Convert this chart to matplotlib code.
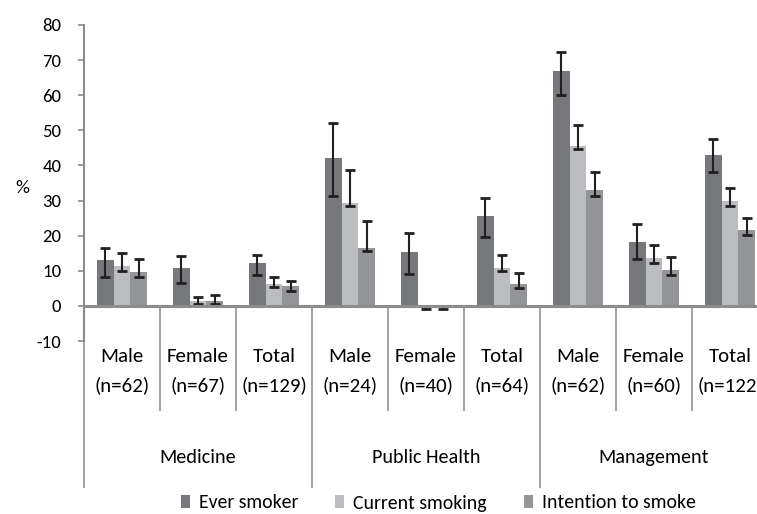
import matplotlib.pyplot as plt
import numpy as np

plt.rcParams['font.family'] = ['Carlito', 'Lato', 'DejaVu Sans']

# ---------- DATA ----------
groups = ["Medicine", "Public Health", "Management"]
subgroups = ["Male\n(n=62)", "Female\n(n=67)", "Total\n(n=129)",
             "Male\n(n=24)", "Female\n(n=40)", "Total\n(n=64)",
             "Male\n(n=62)", "Female\n(n=60)", "Total\n(n=122)"]
series = ["Ever smoker", "Current smoking", "Intention to smoke"]

ever = [13.0, 10.9, 12.1, 42.0, 15.4, 25.7, 66.9, 18.3, 43.1]
ever_lo = [4.9, 4.4, 3.3, 10.8, 6.2, 6.0, 6.7, 5.0, 4.9]
ever_hi = [3.6, 3.2, 2.5, 10.0, 5.5, 5.0, 5.4, 4.9, 4.3]

current = [11.4, 1.4, 6.3, 29.4, 0.0, 10.9, 45.4, 13.7, 30.0]
current_lo = [1.6, 1.0, 1.0, 1.0, 1.0, 1.0, 0.7, 1.5, 1.6]
current_hi = [3.7, 1.0, 2.0, 9.4, 0.0, 3.6, 6.0, 3.7, 3.7]

intention = [9.7, 1.4, 5.8, 16.6, 0.0, 6.3, 32.9, 10.3, 21.7]
intention_lo = [1.6, 1.0, 1.7, 1.0, 1.0, 1.1, 1.7, 1.6, 1.4]
intention_hi = [3.6, 1.7, 1.3, 7.7, 0.0, 3.0, 5.3, 3.7, 3.2]

yticks = list(range(-10, 81, 10))

# ---------- FIGURE ----------
fig = plt.figure(figsize=(7.57, 5.14), dpi=100)
ax = fig.add_axes([84 / 757, 173 / 514, 684 / 757, 316 / 514])

colors = ["#77787b", "#bcbdc0", "#939598"]
x = np.arange(len(subgroups))
w = 0.22
data = [(ever, ever_lo, ever_hi), (current, current_lo, current_hi),
        (intention, intention_lo, intention_hi)]
for k, (vals, lo, hi) in enumerate(data):
    ax.bar(x + (k - 1) * w, vals, width=w, color=colors[k], label=series[k], zorder=2)
    ax.errorbar(x + (k - 1) * w, vals, yerr=[lo, hi], fmt="none",
                ecolor="#231f20", elinewidth=1.5, capsize=3.5, capthick=2, zorder=3)

ax.set_xlim(-0.5, len(subgroups) - 0.5)
ax.set_ylim(-10, 80)
ax.set_yticks(yticks)
ax.set_yticklabels([str(t) for t in yticks], fontsize=13.5)
ax.set_xticks([])
ax.tick_params(axis="y", length=4.3, width=1.2, color="#8c8c8c", pad=12)

for s in ["top", "right", "bottom"]:
    ax.spines[s].set_visible(False)
ax.spines["left"].set_color("#8c8c8c")
ax.spines["left"].set_linewidth(1.5)
ax.axhline(0, color="#8c8c8c", linewidth=2.2, zorder=4)

# separators below the axis
trans = ax.get_xaxis_transform()
y0 = 10 / 90
for i in range(len(subgroups) + 1):
    xpos = i - 0.5
    end = -0.462 if i % 3 == 0 else -0.218
    ax.plot([xpos, xpos], [y0, end], color="#a6a6a6", linewidth=1.5,
            transform=trans, clip_on=False)

for i, lab in enumerate(subgroups):
    ax.text(i, -0.095, lab, transform=trans, ha="center", va="center",
            fontsize=15, linespacing=1.75)
for g, name in enumerate(groups):
    ax.text(g * 3 + 1, -0.370, name, transform=trans, ha="center", va="center",
            fontsize=14.5)

fig.text(15 / 757, 1 - 188 / 514, "%", ha="left", va="center", fontsize=14)

fig.legend(loc="center", bbox_to_anchor=(0.579, 11 / 514), ncol=3, frameon=False,
           fontsize=14.2, handlelength=0.45, handleheight=0.65, handletextpad=0.45,
           columnspacing=1.9)

fig.savefig("out.png", dpi=100)
